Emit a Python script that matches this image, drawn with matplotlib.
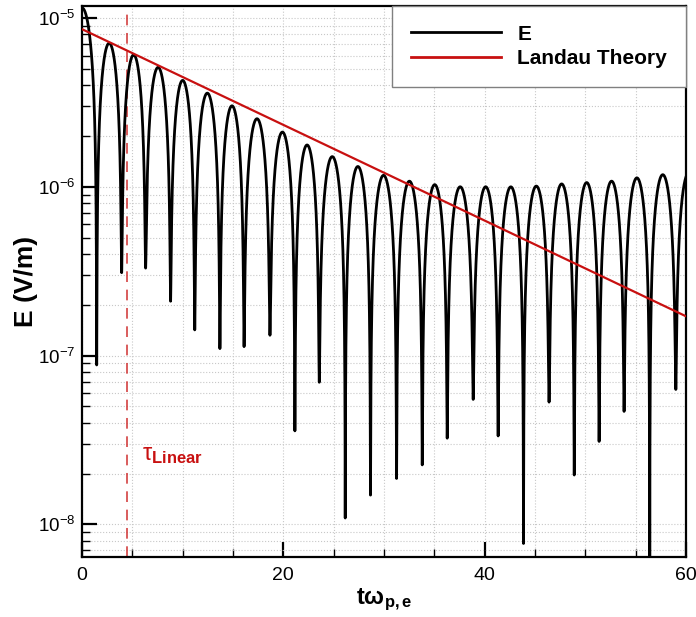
import numpy as np
import matplotlib
matplotlib.use('Agg')
import matplotlib.pyplot as plt
from matplotlib.ticker import MultipleLocator, LogLocator, NullFormatter

plt.rcParams['font.family'] = ['Liberation Sans', 'DejaVu Sans']
plt.rcParams['mathtext.fontset'] = 'custom'
plt.rcParams['mathtext.rm'] = 'Liberation Sans'
plt.rcParams['mathtext.it'] = 'Liberation Sans:italic'
plt.rcParams['mathtext.bf'] = 'Liberation Sans:bold'
plt.rcParams['axes.unicode_minus'] = False

# times of the cusps (minima) of |E|; first and last are just outside the axes
t_min = [-1.46, 1.46, 3.94, 6.32, 8.8, 11.2, 13.7, 16.1, 18.67, 21.15, 23.57, 26.15, 28.66,
         31.25, 33.8, 36.28, 38.86, 41.34, 43.86, 46.4, 48.9, 51.37, 53.85, 56.4, 58.99, 61.5]
# depth of each cusp (V/m)
e_min = [1e-9, 8.8e-8, 3.1e-7, 3.3e-7, 2.1e-7, 1.42e-7, 1.1e-7, 1.13e-7, 1.32e-7, 3.58e-8,
         6.95e-8, 1.09e-8, 1.49e-8, 1.87e-8, 2.25e-8, 3.24e-8, 5.5e-8, 3.34e-8, 7.7e-9, 5.3e-8,
         1.96e-8, 3.1e-8, 4.67e-8, 1e-9, 6.3e-8, 1e-9]
# peak of each lobe between two cusps (V/m)
e_peak = [1.15e-5, 7.1e-6, 6.05e-6, 5.1e-6, 4.27e-6, 3.59e-6, 3.02e-6, 2.53e-6, 2.11e-6, 1.77e-6,
          1.51e-6, 1.32e-6, 1.17e-6, 1.08e-6, 1.03e-6, 1.0e-6, 1.0e-6, 1.0e-6, 1.01e-6, 1.04e-6,
          1.06e-6, 1.08e-6, 1.13e-6, 1.18e-6, 1.2e-6]

# Landau theory line end points
t_landau = [0, 60]
e_landau = [8.6e-6, 1.71e-7]

t_linear = 4.5

# build the |E| trace lobe by lobe
tt, ee = [], []
for i in range(len(e_peak)):
    t = np.linspace(t_min[i], t_min[i + 1], 400)
    u = (t - t_min[i]) / (t_min[i + 1] - t_min[i])
    v = e_peak[i] * np.sin(np.pi * u)
    d = e_min[i] * (1 - u) + e_min[i + 1] * u
    tt.append(t)
    ee.append(np.sqrt(v ** 2 + d ** 2))
tt = np.concatenate(tt)
ee = np.concatenate(ee)

fig = plt.figure(figsize=(6.96, 6.17), dpi=100)
ax = fig.add_axes([0.1178, 0.0972, 0.8678, 0.8931])

ax.plot(tt, ee, color='black', lw=2.0, label='E', zorder=3)
ax.plot(t_landau, e_landau, color='#c81010', lw=1.6, label='Landau Theory', zorder=4)
ax.axvline(t_linear, color='#d03030', lw=1.1, dashes=(7, 5), zorder=2)
ax.text(6.0, 2.4e-8, r'$\mathrm{\tau}_{\mathbf{Linear}}$', color='#c81010', fontsize=17)

ax.set_yscale('log')
ax.set_xlim(0, 60)
ax.set_ylim(6.4e-9, 1.18e-5)

ax.xaxis.set_major_locator(MultipleLocator(20))
ax.xaxis.set_minor_locator(MultipleLocator(5))
ax.yaxis.set_major_locator(LogLocator(base=10))
ax.yaxis.set_minor_locator(LogLocator(base=10, subs=np.arange(2, 10)))
ax.yaxis.set_minor_formatter(NullFormatter())

ax.tick_params(which='both', direction='in')
ax.tick_params(axis='x', labelsize=14, pad=7)
ax.tick_params(axis='y', labelsize=13.5, pad=5)
ax.tick_params(which='major', length=11, width=1.6)
ax.tick_params(which='minor', length=6, width=1.0)
ax.grid(True, which='both', color='#c8c8c8', ls=':', lw=0.8)
for s in ax.spines.values():
    s.set_linewidth(1.6)

ax.set_xlabel(r'$\mathbf{t\omega_{p,e}}$', fontsize=17, labelpad=2)
ax.set_ylabel('E (V/m)', fontsize=19, fontweight='bold', labelpad=0)

leg = ax.legend(loc='upper right', borderaxespad=0, fancybox=False, framealpha=1,
                edgecolor='#808080', handlelength=4.3, handletextpad=0.8,
                prop={'weight': 'bold', 'size': 15}, borderpad=0.9, labelspacing=0.25)
leg.get_frame().set_linewidth(1.0)
for h in leg.get_lines():
    h.set_linewidth(2.0)

fig.savefig('out.png', dpi=100)
